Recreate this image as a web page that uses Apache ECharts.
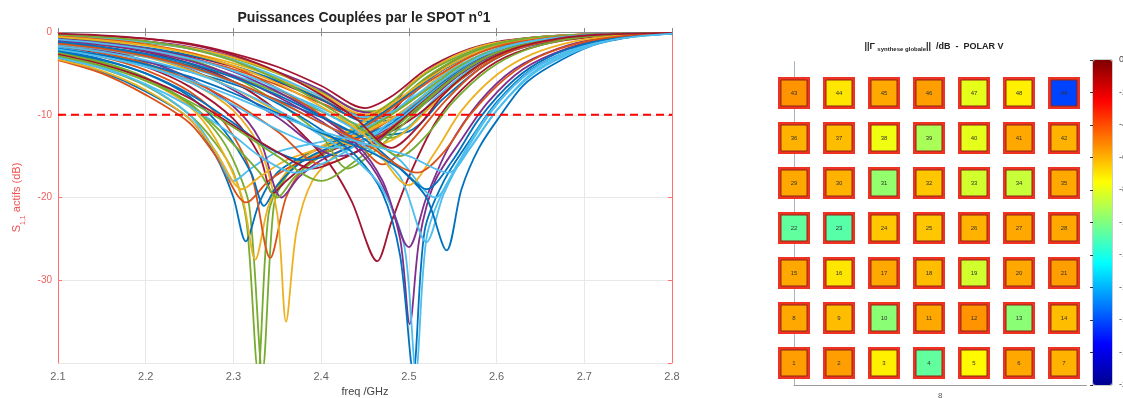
<!DOCTYPE html>
<html><head><meta charset="utf-8">
<script src="https://cdn.jsdelivr.net/npm/echarts@6/dist/echarts.min.js"></script>
<style>html,body{margin:0;padding:0;background:#fff}#c{width:1123px;height:398px}</style>
</head><body><div id="c"></div>
<script>
// ---------------- DATA ----------------
const freqRange = [2.1, 2.8];
const freqStep = 0.1;
const dbRange = [-40, 0];
const dbStep = 10;
const thresholdDb = -10;

// S11 active curves, [freq GHz, dB] pairs
const s11Curves = [
 // upper curves (min near 2.45)
 [[2.10,-0.3],[2.15,-0.5],[2.20,-0.8],[2.25,-1.4],[2.30,-2.6],[2.35,-4.2],[2.40,-6.5],[2.45,-9.2],[2.48,-7.8],[2.52,-4.5],[2.56,-2.4],[2.60,-1.2],[2.65,-0.6],[2.70,-0.3],[2.80,-0.1]],
 [[2.10,-0.6],[2.15,-0.9],[2.20,-1.3],[2.25,-2.0],[2.30,-3.2],[2.35,-5.0],[2.40,-7.2],[2.45,-9.6],[2.48,-9.0],[2.52,-5.5],[2.56,-3.0],[2.60,-1.5],[2.65,-0.7],[2.70,-0.3],[2.80,-0.1]],
 [[2.10,-0.8],[2.15,-1.1],[2.20,-1.6],[2.25,-2.5],[2.30,-3.8],[2.35,-5.6],[2.40,-8.0],[2.45,-10.0],[2.49,-9.2],[2.53,-5.8],[2.57,-3.0],[2.61,-1.5],[2.66,-0.7],[2.72,-0.3],[2.80,-0.1]],
 [[2.10,-1.2],[2.15,-1.6],[2.20,-2.2],[2.25,-3.2],[2.30,-4.5],[2.35,-6.4],[2.40,-8.6],[2.45,-10.5],[2.49,-10.0],[2.53,-6.5],[2.57,-3.5],[2.61,-1.7],[2.66,-0.8],[2.72,-0.3],[2.80,-0.1]],
 [[2.10,-0.4],[2.15,-0.7],[2.20,-1.1],[2.25,-1.8],[2.30,-3.0],[2.35,-4.8],[2.40,-7.0],[2.44,-9.5],[2.47,-9.8],[2.50,-6.5],[2.54,-3.5],[2.58,-1.8],[2.63,-0.8],[2.70,-0.3],[2.80,-0.1]],
 [[2.10,-1.5],[2.15,-2.0],[2.20,-2.7],[2.25,-3.8],[2.30,-5.2],[2.35,-7.0],[2.40,-9.2],[2.45,-11.5],[2.49,-11.8],[2.53,-8.0],[2.57,-4.5],[2.61,-2.2],[2.66,-1.0],[2.72,-0.4],[2.80,-0.1]],
 [[2.10,-2.2],[2.15,-2.8],[2.20,-3.6],[2.25,-4.8],[2.30,-6.3],[2.35,-8.2],[2.40,-10.3],[2.45,-12.5],[2.50,-12.0],[2.54,-8.0],[2.58,-4.5],[2.62,-2.2],[2.67,-1.0],[2.72,-0.4],[2.80,-0.1]],
 [[2.10,-1.0],[2.15,-1.4],[2.20,-2.0],[2.25,-2.9],[2.30,-4.2],[2.35,-6.0],[2.40,-8.2],[2.44,-10.0],[2.47,-10.2],[2.50,-7.5],[2.54,-4.2],[2.58,-2.2],[2.63,-1.0],[2.70,-0.4],[2.80,-0.1]],
 [[2.10,-1.8],[2.15,-2.3],[2.20,-3.0],[2.25,-4.0],[2.30,-5.4],[2.35,-7.3],[2.40,-9.6],[2.45,-12.0],[2.48,-12.8],[2.52,-9.5],[2.56,-5.5],[2.60,-2.8],[2.65,-1.2],[2.71,-0.5],[2.80,-0.1]],
 [[2.10,-0.5],[2.15,-0.8],[2.20,-1.2],[2.25,-1.9],[2.30,-3.1],[2.35,-4.9],[2.40,-7.4],[2.45,-10.0],[2.48,-8.5],[2.51,-5.6],[2.55,-3.0],[2.59,-1.5],[2.64,-0.7],[2.70,-0.3],[2.80,-0.1]],
 [[2.10,-0.9],[2.15,-1.3],[2.20,-1.9],[2.25,-2.8],[2.30,-4.1],[2.35,-5.9],[2.40,-8.1],[2.45,-10.8],[2.49,-10.4],[2.53,-6.8],[2.57,-3.6],[2.61,-1.8],[2.66,-0.8],[2.72,-0.3],[2.80,-0.1]],
 [[2.10,-0.4],[2.15,-0.7],[2.20,-1.2],[2.25,-2.0],[2.30,-3.4],[2.35,-5.4],[2.40,-7.8],[2.45,-10.3],[2.485,-9.4],[2.52,-6.0],[2.56,-3.2],[2.60,-1.6],[2.65,-0.7],[2.71,-0.3],[2.80,-0.1]],
 // early dips (2.30 - 2.37)
 [[2.10,-2.4],[2.15,-3.6],[2.20,-5.5],[2.25,-8.8],[2.28,-12],[2.30,-15.5],[2.318,-21],[2.333,-41],[2.346,-21],[2.36,-17.5],[2.38,-15.5],[2.41,-14],[2.44,-12],[2.48,-9],[2.52,-5.5],[2.56,-3],[2.60,-1.5],[2.65,-0.7],[2.71,-0.3],[2.80,-0.1]],
 [[2.10,-3.0],[2.15,-4.4],[2.20,-6.5],[2.25,-10],[2.28,-13.5],[2.30,-17],[2.315,-23],[2.328,-41],[2.34,-22],[2.355,-18],[2.38,-15],[2.41,-13.5],[2.44,-11.5],[2.48,-8.5],[2.52,-5],[2.56,-2.8],[2.60,-1.4],[2.65,-0.6],[2.71,-0.3],[2.80,-0.1]],
 [[2.10,-3.2],[2.15,-4.8],[2.20,-7.2],[2.25,-10.5],[2.28,-15],[2.30,-20],[2.314,-25.3],[2.33,-20.5],[2.35,-17],[2.38,-15],[2.42,-13],[2.46,-10.5],[2.50,-7.5],[2.54,-4.5],[2.58,-2.4],[2.63,-1.1],[2.70,-0.4],[2.80,-0.1]],
 [[2.10,-2.6],[2.15,-3.8],[2.20,-5.8],[2.25,-9],[2.28,-13],[2.31,-20],[2.325,-27.5],[2.34,-21],[2.36,-17],[2.39,-14.5],[2.43,-12],[2.47,-9.5],[2.51,-6.5],[2.55,-3.8],[2.59,-2],[2.64,-0.9],[2.70,-0.4],[2.80,-0.1]],
 [[2.10,-2.0],[2.15,-3.0],[2.20,-4.6],[2.25,-7.2],[2.29,-11],[2.32,-17],[2.342,-27.3],[2.36,-20],[2.38,-16.5],[2.41,-14],[2.45,-11.5],[2.49,-8.5],[2.53,-5.5],[2.57,-3],[2.61,-1.5],[2.66,-0.7],[2.72,-0.3],[2.80,-0.1]],
 [[2.10,-1.6],[2.15,-2.5],[2.20,-3.9],[2.25,-6],[2.30,-9.5],[2.33,-14],[2.35,-22],[2.36,-35],[2.372,-24],[2.39,-18],[2.42,-14.5],[2.46,-11.5],[2.50,-8.5],[2.54,-5.5],[2.58,-3],[2.63,-1.4],[2.70,-0.5],[2.80,-0.1]],
 [[2.10,-3.4],[2.15,-5],[2.20,-7.6],[2.25,-11],[2.28,-15],[2.315,-20.6],[2.34,-18],[2.37,-16],[2.40,-14.8],[2.44,-13],[2.48,-10.5],[2.52,-7.5],[2.56,-4.5],[2.60,-2.4],[2.65,-1.1],[2.71,-0.4],[2.80,-0.1]],
 [[2.10,-2.8],[2.15,-4.2],[2.20,-6.4],[2.25,-10],[2.28,-14.5],[2.30,-18],[2.32,-16.5],[2.35,-14.5],[2.39,-13.5],[2.43,-12.5],[2.47,-10.5],[2.51,-7.5],[2.55,-4.5],[2.59,-2.4],[2.64,-1.1],[2.70,-0.4],[2.80,-0.1]],
 [[2.10,-2.2],[2.15,-3.3],[2.20,-5],[2.25,-7.8],[2.29,-12],[2.32,-17],[2.335,-21],[2.35,-18.5],[2.38,-15.5],[2.42,-13.5],[2.46,-12],[2.50,-10],[2.54,-6.5],[2.58,-3.5],[2.62,-1.8],[2.67,-0.8],[2.72,-0.3],[2.80,-0.1]],
 [[2.10,-1.8],[2.15,-2.7],[2.20,-4.2],[2.25,-6.6],[2.30,-10.5],[2.33,-15],[2.345,-19.5],[2.36,-18],[2.39,-15.5],[2.43,-13.5],[2.47,-12.5],[2.51,-10],[2.55,-6.5],[2.59,-3.5],[2.63,-1.7],[2.68,-0.7],[2.73,-0.3],[2.80,-0.1]],
 [[2.10,-1.4],[2.15,-2.2],[2.20,-3.5],[2.25,-5.6],[2.30,-9],[2.33,-13],[2.355,-20],[2.375,-17.5],[2.40,-15.5],[2.44,-13.5],[2.48,-11.5],[2.52,-8.5],[2.56,-5],[2.60,-2.6],[2.65,-1.2],[2.71,-0.4],[2.80,-0.1]],
 [[2.10,-2.5],[2.15,-3.7],[2.20,-5.6],[2.25,-8.6],[2.29,-12.5],[2.33,-17],[2.35,-20],[2.37,-17.5],[2.40,-15],[2.44,-12.5],[2.48,-10],[2.52,-7],[2.56,-4],[2.60,-2.1],[2.65,-1],[2.71,-0.4],[2.80,-0.1]],
 [[2.10,-3.3],[2.15,-4.7],[2.20,-7],[2.25,-10.5],[2.28,-14.5],[2.31,-19],[2.33,-17.5],[2.36,-15.5],[2.40,-14],[2.44,-12.5],[2.48,-10.5],[2.52,-7.5],[2.56,-4.5],[2.60,-2.4],[2.65,-1.1],[2.71,-0.4],[2.80,-0.1]],
 // mid dips (2.37 - 2.47)
 [[2.10,-0.9],[2.15,-1.5],[2.20,-2.4],[2.25,-3.8],[2.30,-6],[2.35,-9.5],[2.38,-12.5],[2.41,-16],[2.435,-20.5],[2.464,-27.7],[2.48,-23],[2.50,-17.5],[2.53,-11],[2.56,-7],[2.60,-3.6],[2.65,-1.6],[2.71,-0.6],[2.80,-0.1]],
 [[2.10,-1.6],[2.15,-2.5],[2.20,-3.8],[2.25,-5.8],[2.30,-8.5],[2.35,-12],[2.40,-16],[2.44,-14.5],[2.48,-11.5],[2.52,-8],[2.56,-4.8],[2.60,-2.5],[2.65,-1.1],[2.71,-0.4],[2.80,-0.1]],
 [[2.10,-1.1],[2.15,-1.8],[2.20,-2.9],[2.25,-4.5],[2.30,-7],[2.35,-10.3],[2.42,-15],[2.46,-13.5],[2.50,-10],[2.54,-6.5],[2.58,-3.6],[2.62,-1.8],[2.67,-0.8],[2.72,-0.3],[2.80,-0.1]],
 [[2.10,-2.3],[2.15,-3.4],[2.20,-5],[2.25,-7.5],[2.30,-11],[2.34,-14],[2.38,-15.5],[2.42,-14.5],[2.46,-12.5],[2.50,-9.5],[2.54,-6],[2.58,-3.3],[2.62,-1.7],[2.67,-0.8],[2.72,-0.3],[2.80,-0.1]],
 [[2.10,-0.7],[2.15,-1.2],[2.20,-2],[2.25,-3.3],[2.30,-5.4],[2.35,-8.5],[2.40,-12.5],[2.43,-16.5],[2.46,-14.5],[2.50,-10.5],[2.54,-6.5],[2.58,-3.5],[2.62,-1.7],[2.67,-0.7],[2.72,-0.3],[2.80,-0.1]],
 [[2.10,-1.9],[2.15,-2.8],[2.20,-4.1],[2.25,-6.1],[2.30,-8.8],[2.35,-11.8],[2.41,-14],[2.45,-13],[2.49,-10.5],[2.53,-7],[2.57,-4],[2.61,-2],[2.66,-0.9],[2.72,-0.3],[2.80,-0.1]],
 [[2.10,-2.7],[2.15,-3.9],[2.20,-5.6],[2.25,-8],[2.30,-11.3],[2.35,-14.5],[2.39,-16.5],[2.43,-15],[2.47,-12.5],[2.51,-9],[2.55,-5.5],[2.59,-2.9],[2.64,-1.3],[2.70,-0.5],[2.80,-0.1]],
 [[2.10,-1.3],[2.15,-2],[2.20,-3],[2.25,-4.6],[2.30,-6.8],[2.35,-9.6],[2.40,-12.3],[2.45,-14],[2.49,-12.5],[2.53,-8.5],[2.57,-4.8],[2.61,-2.4],[2.66,-1],[2.72,-0.4],[2.80,-0.1]],
 [[2.10,-0.5],[2.15,-0.9],[2.20,-1.5],[2.25,-2.5],[2.30,-4.2],[2.35,-6.8],[2.40,-10],[2.44,-13.2],[2.47,-16],[2.50,-13.5],[2.54,-8.5],[2.58,-4.5],[2.62,-2.2],[2.67,-0.9],[2.72,-0.3],[2.80,-0.1]],
 [[2.10,-2.9],[2.15,-4.1],[2.20,-5.9],[2.25,-8.4],[2.30,-11.5],[2.35,-15],[2.40,-18],[2.44,-15.5],[2.48,-12],[2.52,-8.2],[2.56,-4.8],[2.60,-2.5],[2.65,-1.1],[2.71,-0.4],[2.80,-0.1]],
 [[2.10,-3.1],[2.15,-4.4],[2.20,-6.3],[2.25,-9],[2.30,-12.5],[2.33,-15],[2.37,-17],[2.41,-15.5],[2.45,-13],[2.49,-10],[2.53,-6.5],[2.57,-3.6],[2.61,-1.8],[2.66,-0.8],[2.72,-0.3],[2.80,-0.1]],
 // late dips (2.48 - 2.56)
 [[2.10,-1.0],[2.15,-1.5],[2.20,-2.3],[2.25,-3.5],[2.30,-5.3],[2.35,-7.8],[2.40,-10.8],[2.44,-14],[2.47,-18.5],[2.49,-25],[2.501,-35.3],[2.512,-25],[2.53,-18],[2.56,-13],[2.59,-8.5],[2.63,-4.5],[2.68,-2],[2.73,-0.7],[2.80,-0.2]],
 [[2.10,-1.3],[2.15,-1.9],[2.20,-2.8],[2.25,-4.1],[2.30,-6],[2.35,-8.6],[2.40,-11.8],[2.44,-15],[2.47,-19.5],[2.49,-27],[2.505,-41],[2.518,-24],[2.54,-18],[2.57,-13],[2.60,-8.5],[2.64,-4.5],[2.69,-2],[2.74,-0.7],[2.80,-0.2]],
 [[2.10,-1.7],[2.15,-2.4],[2.20,-3.4],[2.25,-4.8],[2.30,-6.8],[2.35,-9.4],[2.40,-12.5],[2.44,-15.5],[2.47,-19],[2.495,-26],[2.508,-41],[2.52,-25],[2.54,-19],[2.57,-14],[2.60,-9.5],[2.64,-5],[2.69,-2.2],[2.74,-0.8],[2.80,-0.2]],
 [[2.10,-0.8],[2.15,-1.3],[2.20,-2],[2.25,-3.1],[2.30,-4.8],[2.35,-7.2],[2.40,-10.2],[2.44,-13.5],[2.47,-18],[2.50,-26],[2.52,-20],[2.545,-14],[2.58,-8.5],[2.62,-4.5],[2.67,-2],[2.72,-0.7],[2.80,-0.2]],
 [[2.10,-1.5],[2.15,-2.1],[2.20,-3],[2.25,-4.3],[2.30,-6.1],[2.35,-8.4],[2.40,-11],[2.45,-13.8],[2.49,-17.5],[2.52,-25.4],[2.54,-19.5],[2.57,-13.5],[2.60,-8.8],[2.64,-4.6],[2.69,-2],[2.74,-0.7],[2.80,-0.2]],
 [[2.10,-1.2],[2.15,-1.8],[2.20,-2.6],[2.25,-3.8],[2.30,-5.5],[2.35,-7.6],[2.40,-10.2],[2.45,-13],[2.49,-16.5],[2.52,-20],[2.543,-26.4],[2.56,-19],[2.58,-14],[2.605,-10],[2.63,-6.5],[2.66,-4.2],[2.71,-1.6],[2.76,-0.5],[2.80,-0.2]],
 [[2.10,-0.9],[2.15,-1.4],[2.20,-2.1],[2.25,-3.2],[2.30,-4.7],[2.35,-6.8],[2.40,-9.5],[2.45,-12.5],[2.49,-15.5],[2.53,-20],[2.555,-16],[2.58,-11.5],[2.61,-7.5],[2.65,-4],[2.70,-1.7],[2.75,-0.6],[2.80,-0.2]],
 [[2.10,-0.6],[2.15,-1],[2.20,-1.6],[2.25,-2.6],[2.30,-4.1],[2.35,-6.2],[2.40,-9],[2.45,-12.5],[2.50,-18.5],[2.53,-14.5],[2.56,-9.5],[2.60,-5.2],[2.64,-2.7],[2.69,-1.1],[2.74,-0.4],[2.80,-0.1]],
 [[2.10,-2.0],[2.15,-2.8],[2.20,-3.9],[2.25,-5.4],[2.30,-7.4],[2.35,-9.8],[2.40,-12.2],[2.45,-14.2],[2.49,-16.5],[2.52,-19],[2.55,-15.5],[2.58,-10.5],[2.62,-5.8],[2.66,-3],[2.71,-1.2],[2.76,-0.4],[2.80,-0.2]],
 [[2.10,-0.3],[2.15,-0.6],[2.20,-1.1],[2.25,-2],[2.30,-3.5],[2.35,-5.7],[2.40,-8.6],[2.45,-12],[2.49,-15],[2.52,-12.5],[2.55,-8.5],[2.59,-4.6],[2.63,-2.3],[2.68,-0.9],[2.73,-0.3],[2.80,-0.1]],
 [[2.10,-1.4],[2.15,-2],[2.20,-2.9],[2.25,-4.2],[2.30,-6],[2.35,-8.3],[2.40,-11],[2.45,-13.5],[2.51,-17],[2.54,-14.5],[2.57,-10],[2.61,-5.6],[2.65,-2.9],[2.70,-1.2],[2.75,-0.4],[2.80,-0.1]],
 [[2.10,-0.2],[2.15,-0.4],[2.20,-0.8],[2.25,-1.5],[2.30,-2.8],[2.35,-4.8],[2.40,-7.6],[2.44,-10.5],[2.48,-14],[2.51,-11.5],[2.54,-7.5],[2.58,-4],[2.62,-2],[2.67,-0.8],[2.72,-0.3],[2.80,-0.1]],
 [[2.10,-2.1],[2.15,-3],[2.20,-4.2],[2.25,-5.8],[2.30,-7.8],[2.35,-10],[2.40,-12],[2.45,-13.5],[2.50,-15],[2.545,-17],[2.57,-14],[2.60,-9.5],[2.64,-5.2],[2.68,-2.8],[2.73,-1],[2.80,-0.2]]
];

// element values (dB) for elements 1..49, row by row from bottom-left
const elementValuesDb = [
 -5.6,-5.6,-7.2,-10.6,-7.4,-5.8,-6.0,
 -5.8,-6.2,-9.8,-5.8,-5.4,-9.8,-6.2,
 -5.8,-7.0,-5.8,-6.2,-8.4,-5.8,-5.6,
 -10.6,-10.8,-6.4,-6.4,-6.0,-5.8,-5.8,
 -5.8,-6.0,-9.6,-6.4,-8.4,-8.6,-5.8,
 -6.0,-6.2,-7.8,-9.2,-8.0,-5.8,-6.0,
 -5.4,-7.0,-5.8,-5.6,-8.0,-7.2,-16.2
];
const arrayCols = 7;
const colorbarRange = [-20, 0];
const colorbarStep = 2;

// ---------------- STYLE ----------------
const matlabColors = ['#0072BD','#D95319','#EDB120','#7E2F8E','#77AC30','#4DBEEE','#A2142F'];
const curveColorIdx = [6,4,2,1,3,5,0,6,4,2,0,5, 4,4,0,2,1,2,1,5,0,6,3,4,2, 6,1,3,0,4,5,6,2,1,4,5, 3,0,5,3,5,0,5,2,0,4,1,6,5];
const jet = ['#00008F','#0000FF','#0080FF','#00FFFF','#80FF80','#FFFF00','#FF8000','#FF0000','#800000'];
const FONT = '"Liberation Sans", Arial, sans-serif';

const chart = echarts.init(document.getElementById('c'), null, {renderer: 'canvas'});

const series = s11Curves.map((pts, i) => ({
  type: 'line', xAxisIndex: 0, yAxisIndex: 0, data: pts,
  showSymbol: false, smooth: 0.3, silent: true, z: 2,
  lineStyle: {width: 1.8, color: matlabColors[curveColorIdx[i]]}
}));
series.push({
  type: 'line', xAxisIndex: 0, yAxisIndex: 0,
  data: [[freqRange[0], thresholdDb], [freqRange[1], thresholdDb]],
  showSymbol: false, silent: true, z: 5,
  lineStyle: {width: 2, color: '#FF0000', type: [8, 5]}
});

const cellData = elementValuesDb.map((v, i) => [(i % arrayCols) + 1, Math.floor(i / arrayCols) + 1, v, i + 1]);
series.push({
  type: 'scatter', xAxisIndex: 2, yAxisIndex: 2, silent: true, z: 2,
  data: cellData.map(d => [d[0], d[1]]), symbol: 'rect', symbolSize: 32,
  itemStyle: {color: '#EE3322', opacity: 1}
});
series.push({
  type: 'scatter', xAxisIndex: 2, yAxisIndex: 2, silent: true, z: 3,
  data: cellData, symbol: 'rect', symbolSize: 26,
  itemStyle: {borderColor: '#8E2614', borderWidth: 1, opacity: 1},
  label: {show: true, position: 'inside', formatter: p => String(p.data[3]), fontSize: 6, color: '#333', fontFamily: FONT}
});
const heatIdx = series.length - 1;
series.push({type: 'scatter', xAxisIndex: 3, yAxisIndex: 3, data: []});

const option = {
  animation: false,
  backgroundColor: '#fff',
  textStyle: {fontFamily: FONT},
  grid: [
    {left: 58, top: 32, width: 614, height: 331, containLabel: false, outerBoundsMode: 'none'},
    {left: 794, top: 61.5, width: 292.5, height: 324, containLabel: false, outerBoundsMode: 'none'},
    {left: 1093, top: 60, width: 19, height: 325, containLabel: false, outerBoundsMode: 'none', show: true, borderColor: '#555', borderWidth: 0.6, backgroundColor: 'transparent'}
  ],
  xAxis: [
    {type: 'value', gridIndex: 0, min: freqRange[0], max: freqRange[1], interval: freqStep, position: 'bottom',
     axisLine: {lineStyle: {color: '#8a8a8a', width: 1}},
     axisTick: {inside: true, length: 4, lineStyle: {color: '#8a8a8a'}},
     axisLabel: {color: '#666', fontSize: 11, margin: 8, formatter: v => v.toFixed(1)},
     splitLine: {show: true, lineStyle: {color: '#e8e8e8', width: 1}},
     name: 'freq /GHz', nameLocation: 'middle', nameGap: 23, nameTextStyle: {color: '#444', fontSize: 11}},
    {type: 'value', gridIndex: 0, min: freqRange[0], max: freqRange[1], interval: freqStep, position: 'top',
     axisLine: {lineStyle: {color: '#8a8a8a', width: 1}},
     axisTick: {inside: true, length: 4, lineStyle: {color: '#8a8a8a'}},
     axisLabel: {show: false}, splitLine: {show: false}},
    {type: 'value', gridIndex: 1, min: 1, max: 7.5, position: 'bottom',
     axisLine: {lineStyle: {color: '#9a9a9a'}}, axisTick: {show: false}, axisLabel: {show: false}, splitLine: {show: false},
     name: '8', nameLocation: 'middle', nameGap: 6, nameTextStyle: {color: '#555', fontSize: 8}},
    {type: 'value', gridIndex: 2, min: 0, max: 1, show: false}
  ],
  yAxis: [
    {type: 'value', gridIndex: 0, min: dbRange[0], max: dbRange[1], interval: dbStep, position: 'left',
     axisLine: {show: true, lineStyle: {color: '#FF7070', width: 1}},
     axisTick: {show: true, inside: true, length: 4, lineStyle: {color: '#FF7070'}},
     axisLabel: {color: '#F06060', fontSize: 10, margin: 6, showMinLabel: false},
     splitLine: {show: true, lineStyle: {color: '#e8e8e8', width: 1}},
     name: '{a|S}{s|1,1}{a| actifs (dB)}', nameLocation: 'middle', nameGap: 32,
     nameTextStyle: {color: '#F05050', fontSize: 11, rich: {a: {color: '#F05050', fontSize: 11}, s: {color: '#F05050', fontSize: 7, verticalAlign: 'bottom', padding: [0, 0, -4, 0]}}}},
    {type: 'value', gridIndex: 0, min: dbRange[0], max: dbRange[1], interval: dbStep, position: 'right',
     axisLine: {show: true, lineStyle: {color: '#FF7070', width: 1}},
     axisTick: {show: true, inside: true, length: 4, lineStyle: {color: '#FF7070'}},
     axisLabel: {show: false}, splitLine: {show: false}},
    {type: 'value', gridIndex: 1, min: 0.5, max: 7.7, position: 'left',
     axisLine: {show: true, lineStyle: {color: '#a8b4c8'}}, axisTick: {show: false}, axisLabel: {show: false}, splitLine: {show: false}},
    {type: 'value', gridIndex: 2, min: colorbarRange[0], max: colorbarRange[1], interval: colorbarStep, position: 'right',
     axisLine: {show: false}, axisTick: {show: true, inside: true, length: 3, lineStyle: {color: '#333'}},
     axisLabel: {color: '#444', fontSize: 9, margin: 7}, splitLine: {show: false}}
  ],
  visualMap: {
    type: 'continuous', min: colorbarRange[0], max: colorbarRange[1], dimension: 2, seriesIndex: heatIdx,
    inRange: {color: jet}, calculable: false, realtime: false, hoverLink: false,
    left: 1093, top: 60, itemWidth: 19, itemHeight: 325, padding: 0, text: null, showLabel: false, z: 1
  },
  graphic: [
    {type: 'text', x: 364, y: 18, silent: true,
     style: {text: 'Puissances Couplées par le SPOT n°1', fill: '#222', font: 'bold 14px ' + FONT, align: 'center', verticalAlign: 'middle'}},
    {type: 'text', x: 934, y: 47, silent: true,
     style: {text: '{a|||Γ }{s|synthese globale}{a|||  /dB  -  POLAR V}', align: 'center', verticalAlign: 'middle',
       rich: {a: {fill: '#222', font: 'bold 9px ' + FONT}, s: {fill: '#222', font: 'bold 6px ' + FONT, padding: [5, 0, 0, 0]}}}}
  ],
  series: series
};
chart.setOption(option);
</script>
</body></html>
